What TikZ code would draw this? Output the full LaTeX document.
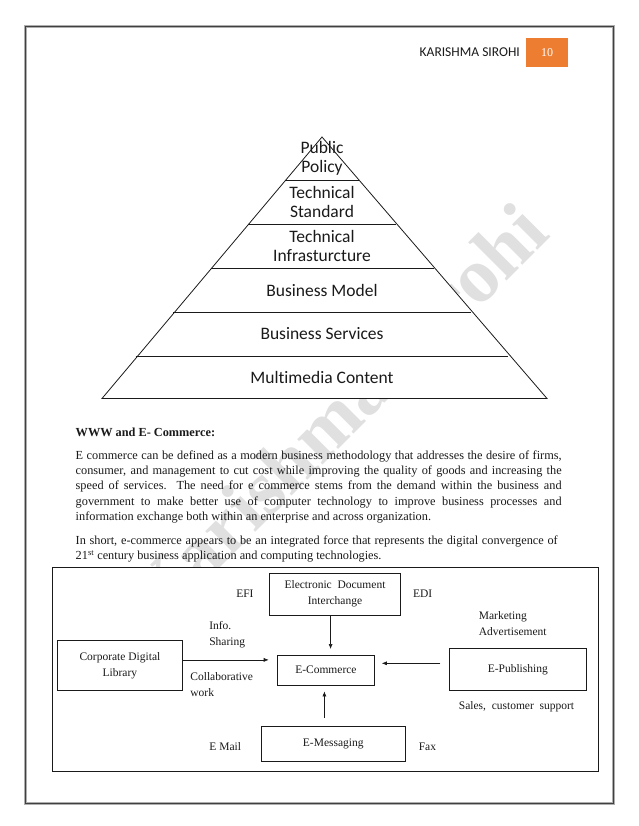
\documentclass[tikz,border=0pt]{standalone}
\usepackage{fontspec}
\setmainfont{Liberation Serif}
\newfontfamily\calibri[Ligatures=NoCommon]{Carlito}
\usetikzlibrary{calc, positioning, arrows.meta}
\definecolor{ink}{HTML}{1A1A1A}
\definecolor{frame}{HTML}{8C8C8C}
\definecolor{tab}{HTML}{ED7D31}
\definecolor{wmark}{HTML}{E0E0E0}

\begin{document}
\begin{tikzpicture}[x=1pt, y=-1pt,
    every node/.style={text=ink, inner sep=0pt},
    layer/.style={font=\calibri\fontsize{17.5}{19}\selectfont, align=center},
    body/.style={font=\fontsize{12.3}{15}\selectfont, anchor=west, text height=9pt, text depth=3pt},
    lbl/.style={font=\fontsize{11.5}{16}\selectfont, align=left},
    box/.style={draw=ink, line width=0.8pt, font=\fontsize{11.5}{16}\selectfont, align=center},
    arr/.style={ink, line width=0.6pt, -{Latex[length=5pt, width=4pt]}}
  ]
    \useasboundingbox (0,0) rectangle (638,826);
    \fill[white] (0,0) rectangle (638,826);

    % page frame
    \draw[frame!70, line width=3pt] (25.5,26.5) rectangle (613,803);
    \draw[black!75, line width=0.8pt] (25.5,26.5) rectangle (613,803);

    % watermark
    \node[font=\bfseries\fontsize{78}{78}\selectfont, text=wmark, rotate=45, anchor=base east] (wm) at (552,236) {Karishma Sirohi};

    % header
    \node[font=\calibri\fontsize{13.5}{14}\selectfont, anchor=east] (author) at (520,52) {KARISHMA SIROHI};
    \node[fill=tab, minimum width=42pt, minimum height=29pt, text=white, font=\fontsize{12}{12}\selectfont] (pg) at (547,52.5) {10};

    % pyramid
    \coordinate (top) at (322,137);
    \coordinate (bl) at (102,398.5);
    \coordinate (br) at (547,398.5);
    \filldraw[fill=white, draw=ink, line width=0.8pt] (top) -- (bl) -- (br) -- cycle;
    \draw[ink, line width=0.8pt] (285.4,180) -- (358.6,180);
    \draw[ink, line width=0.8pt] (248.0,224) -- (396.0,224);
    \draw[ink, line width=0.8pt] (210.5,268) -- (433.5,268);
    \draw[ink, line width=0.8pt] (173.1,312) -- (470.9,312);
    \draw[ink, line width=0.8pt] (135.7,356) -- (508.3,356);

    \node[layer] (l1) at (322,158.5) {Public\\Policy};
    \node[layer] (l2) at (322,202) {Technical\\Standard};
    \node[layer] (l3) at (322,246) {Technical\\Infrasturcture};
    \node[layer] (l4) at (322,290) {Business Model};
    \node[layer] (l5) at (322,334) {Business Services};
    \node[layer] (l6) at (322,377.5) {Multimedia Content};

    % text
    \node[body, font=\bfseries\fontsize{12.3}{15}\selectfont] (head) at (75.5,433) {WWW and E- Commerce:};
    \node[body] (p1) at (75.5,456.5) {\makebox[486pt][s]{E commerce can be defined as a modern business methodology that addresses the desire of firms,}};
    \node[body] (p2) at (75.5,471.7) {\makebox[486pt][s]{consumer, and management to cut cost while improving the quality of goods and increasing the}};
    \node[body] (p3) at (75.5,486.9) {\makebox[486pt][s]{speed of services. The need for e commerce stems from the demand within the business and}};
    \node[body] (p4) at (75.5,502.1) {\makebox[486pt][s]{government to make better use of computer technology to improve business processes and}};
    \node[body] (p5) at (75.5,517.3) {information exchange both within an enterprise and across organization.};
    \node[body] (q1) at (75.5,541.5) {\makebox[482pt][s]{In short, e-commerce appears to be an integrated force that represents the digital convergence of}};
    \node[body] (q2) at (75.5,556.5) {21\textsuperscript{st} century business application and computing technologies.};

    % e-commerce diagram
    \filldraw[fill=white, draw=ink, line width=0.8pt] (52.8,567.7) rectangle (598.3,771);

    \node[box, minimum width=131pt, minimum height=42pt] (edi) at (335,594) {Electronic\ \ Document\\Interchange};
    \node[box, minimum width=97pt, minimum height=29.6pt] (ecom) at (325.9,670.2) {E-Commerce};
    \node[box, minimum width=124.6pt, minimum height=49.3pt] (cdl) at (119.9,665.5) {Corporate Digital\\Library};
    \node[box, minimum width=136.8pt, minimum height=41.4pt] (epub) at (517.8,669.5) {E-Publishing};
    \node[box, minimum width=144.3pt, minimum height=35.1pt] (emsg) at (333.3,743.9) {E-Messaging};

    \node[lbl] (efi) at (244.9,593.7) {EFI};
    \node[lbl] (edil) at (422.6,593.7) {EDI};
    \node[lbl, anchor=west] (info) at (209.1,634.5) {Info.\\Sharing};
    \node[lbl, anchor=west] (collab) at (190.2,684.2) {Collaborative\\work};
    \node[lbl, anchor=west] (mkt) at (478.7,623.7) {Marketing\\Advertisement};
    \node[lbl] (sales) at (516.5,706.3) {Sales,\ \ customer\ \ support};
    \node[lbl] (mail) at (225.3,747) {E Mail};
    \node[lbl] (fax) at (427.4,747) {Fax};

    \draw[arr, shorten >=8.3pt] ($(cdl.east)+(0,-5.6)$) -- ($(cdl.east -| ecom.west)+(0,-5.6)$);
    \draw[arr, shorten <=8.6pt, shorten >=7pt] ($(epub.west)+(0,-6.2)$) -- ($(epub.west -| ecom.east)+(0,-6.2)$);
    \draw[arr, shorten >=6pt] ($(edi.south)+(-4.4,0)$) -- ($(edi.south |- ecom.north)+(-4.4,0)$);
    \draw[arr, shorten <=8pt, shorten >=6pt] ($(emsg.north)+(-8.9,0)$) -- ($(emsg.north |- ecom.south)+(-8.9,0)$);
  \end{tikzpicture}
\end{document}
